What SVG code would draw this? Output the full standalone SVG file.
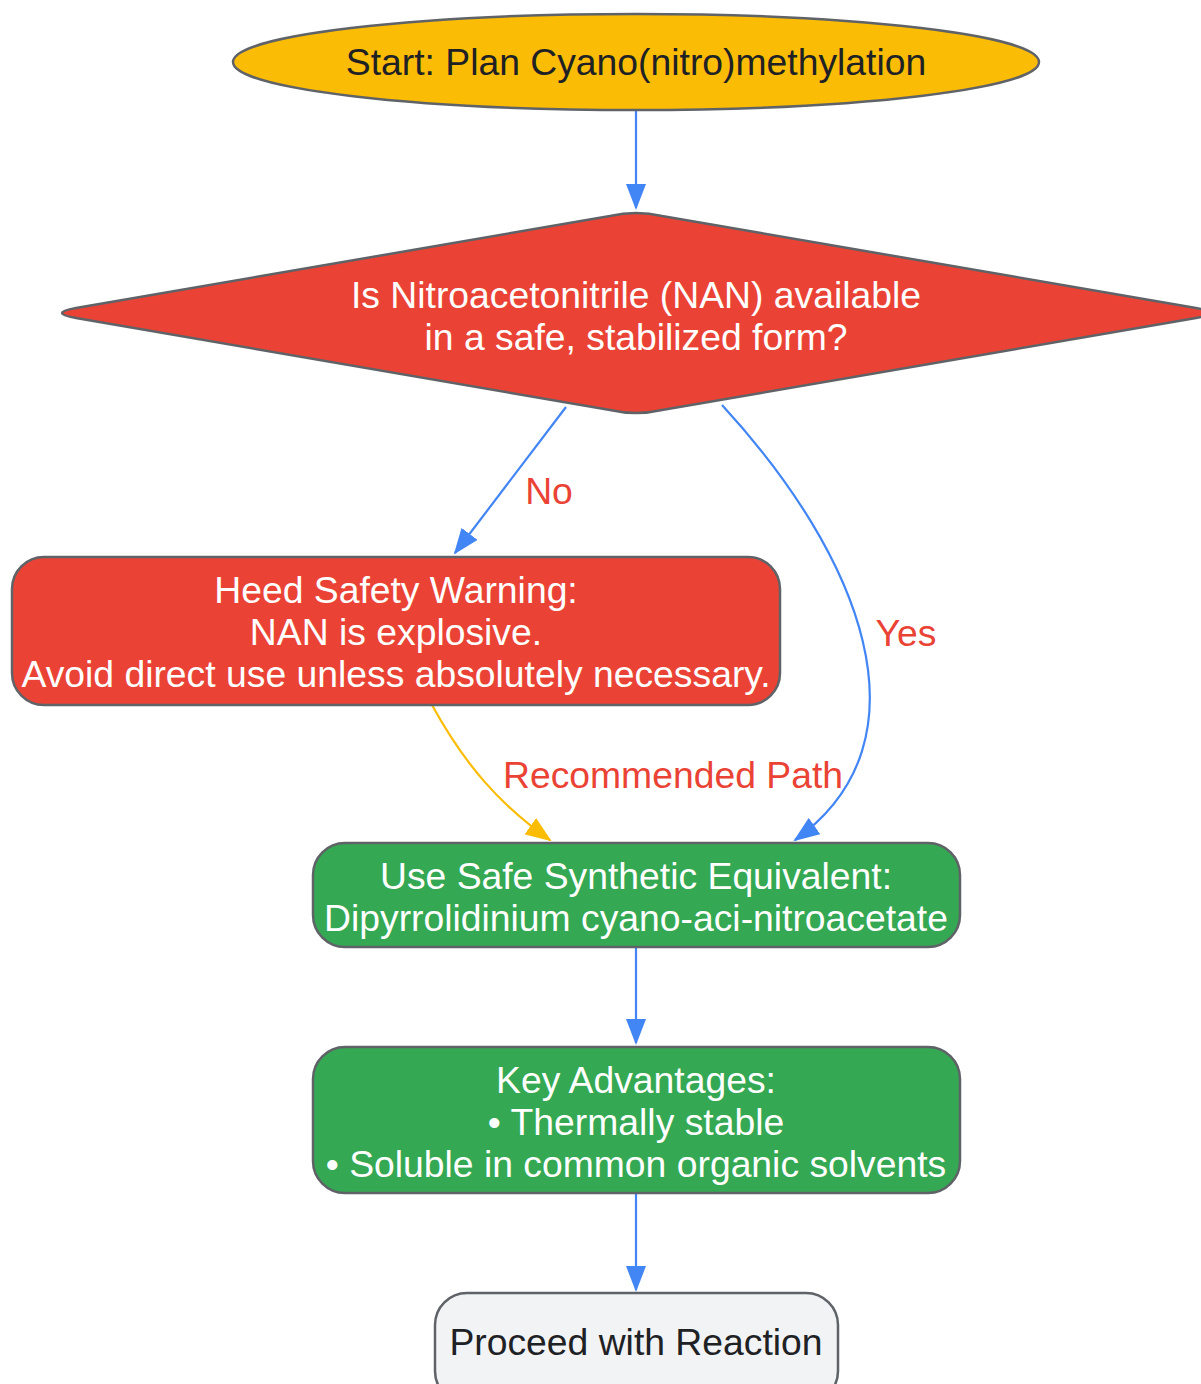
<svg xmlns="http://www.w3.org/2000/svg" width="1201" height="1384" viewBox="0 0 1201 1384">
<defs>
<style>
.n{stroke:#5f6368;stroke-width:2.5}
.t{font-family:"Liberation Sans",Arial,sans-serif;font-size:37.3px;text-anchor:middle}
.w{fill:#ffffff}
.d{fill:#202124}
.lbl{font-family:"Liberation Sans",Arial,sans-serif;font-size:37.3px;fill:#EA4335;text-anchor:middle}
.e{fill:none;stroke-width:2.2}
.b{stroke:#4285F4}
.y{stroke:#FBBC05}
</style>
<marker id="ab" markerWidth="26" markerHeight="20" refX="24" refY="10" orient="auto" markerUnits="userSpaceOnUse"><path d="M0,0 L26,10 L0,20 Z" fill="#4285F4"/></marker>
<marker id="ay" markerWidth="26" markerHeight="20" refX="24" refY="10" orient="auto" markerUnits="userSpaceOnUse"><path d="M0,0 L26,10 L0,20 Z" fill="#FBBC05"/></marker>
</defs>
<rect width="1201" height="1384" fill="#ffffff"/>
<g id="edges">
<path class="e b" d="M636,110 L636,208" marker-end="url(#ab)"/>
<path class="e b" d="M566,407 L455,553" marker-end="url(#ab)"/>
<path class="e b" d="M722,405 C860,555 935,740 795,840" marker-end="url(#ab)"/>
<path class="e y" d="M432,705 C465,765 500,805 550,840" marker-end="url(#ay)"/>
<path class="e b" d="M636,947 L636,1043" marker-end="url(#ab)"/>
<path class="e b" d="M636,1193 L636,1290" marker-end="url(#ab)"/>
<text class="lbl" x="549" y="504">No</text>
<text class="lbl" x="906" y="646">Yes</text>
<text class="lbl" x="673" y="788">Recommended Path</text>
</g>
<g id="start">
<ellipse class="n" cx="636" cy="62" rx="403" ry="48" fill="#FBBC05"/>
<text class="t d" x="636" y="75">Start: Plan Cyano(nitro)methylation</text>
</g>
<g id="decision">
<path class="n" fill="#EA4335" d="M610,216 Q636,210 662,216 L1196,308 Q1224,313 1196,318 L662,410 Q636,416 610,410 L76,318 Q48,313 76,308 Z"/>
<text class="t w" x="636" y="308">Is Nitroacetonitrile (NAN) available</text>
<text class="t w" x="636" y="350">in a safe, stabilized form?</text>
</g>
<g id="warning">
<rect class="n" x="12" y="557" width="768" height="148" rx="32" fill="#EA4335"/>
<text class="t w" x="396" y="603">Heed Safety Warning:</text>
<text class="t w" x="396" y="645">NAN is explosive.</text>
<text class="t w" x="396" y="687">Avoid direct use unless absolutely necessary.</text>
</g>
<g id="equivalent">
<rect class="n" x="313" y="843" width="647" height="104" rx="32" fill="#34A853"/>
<text class="t w" x="636" y="889">Use Safe Synthetic Equivalent:</text>
<text class="t w" x="636" y="931">Dipyrrolidinium cyano-aci-nitroacetate</text>
</g>
<g id="advantages">
<rect class="n" x="313" y="1047" width="647" height="146" rx="32" fill="#34A853"/>
<text class="t w" x="636" y="1093">Key Advantages:</text>
<text class="t w" x="636" y="1135">• Thermally stable</text>
<text class="t w" x="636" y="1177">• Soluble in common organic solvents</text>
</g>
<g id="proceed">
<rect class="n" x="435" y="1293" width="403" height="110" rx="32" fill="#F1F3F4"/>
<text class="t d" x="636" y="1355">Proceed with Reaction</text>
</g>
</svg>
